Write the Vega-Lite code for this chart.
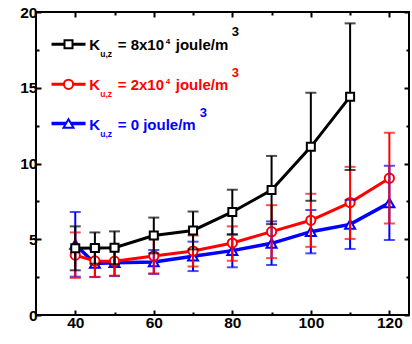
{
  "$schema": "https://vega.github.io/schema/vega-lite/v6.json",
  "width": 373,
  "height": 303,
  "autosize": "none",
  "padding": {"left": 36, "top": 12, "right": 3, "bottom": 29},
  "background": "white",
  "config": {
    "view": {"stroke": "#000000", "strokeWidth": 2},
    "axis": {
      "labelFont": "Liberation Sans",
      "labelFontWeight": "bold",
      "labelFontSize": 15.5,
      "labelColor": "#000000",
      "tickColor": "#000000",
      "tickWidth": 2,
      "domain": false,
      "grid": false
    },
    "text": {"font": "Liberation Sans", "fontWeight": "bold", "align": "left", "baseline": "alphabetic"}
  },
  "data": {
    "values": [
      {"s": "k", "x": 40, "y": 4.40, "lo": 2.95, "hi": 5.85},
      {"s": "k", "x": 45, "y": 4.42, "lo": 3.39, "hi": 5.45},
      {"s": "k", "x": 50, "y": 4.44, "lo": 3.36, "hi": 5.52},
      {"s": "k", "x": 60, "y": 5.25, "lo": 4.07, "hi": 6.43},
      {"s": "k", "x": 70, "y": 5.58, "lo": 4.33, "hi": 6.83},
      {"s": "k", "x": 80, "y": 6.80, "lo": 5.33, "hi": 8.27},
      {"s": "k", "x": 90, "y": 8.25, "lo": 6.00, "hi": 10.50},
      {"s": "k", "x": 100, "y": 11.10, "lo": 7.54, "hi": 14.67},
      {"s": "k", "x": 110, "y": 14.41, "lo": 9.57, "hi": 19.25},
      {"s": "r", "x": 40, "y": 3.95, "lo": 2.45, "hi": 5.45},
      {"s": "r", "x": 45, "y": 3.57, "lo": 2.52, "hi": 4.60},
      {"s": "r", "x": 50, "y": 3.55, "lo": 2.60, "hi": 4.50},
      {"s": "r", "x": 60, "y": 3.90, "lo": 2.75, "hi": 5.05},
      {"s": "r", "x": 70, "y": 4.22, "lo": 3.20, "hi": 5.25},
      {"s": "r", "x": 80, "y": 4.75, "lo": 3.58, "hi": 5.85},
      {"s": "r", "x": 90, "y": 5.50, "lo": 3.75, "hi": 7.25},
      {"s": "r", "x": 100, "y": 6.25, "lo": 4.50, "hi": 8.00},
      {"s": "r", "x": 110, "y": 7.42, "lo": 5.02, "hi": 9.78},
      {"s": "r", "x": 120, "y": 9.03, "lo": 6.04, "hi": 12.03},
      {"s": "b", "x": 40, "y": 4.66, "lo": 2.53, "hi": 6.80},
      {"s": "b", "x": 45, "y": 3.40, "lo": 2.50, "hi": 4.30},
      {"s": "b", "x": 50, "y": 3.45, "lo": 2.57, "hi": 4.33},
      {"s": "b", "x": 60, "y": 3.50, "lo": 2.71, "hi": 4.29},
      {"s": "b", "x": 70, "y": 3.88, "lo": 2.90, "hi": 4.84},
      {"s": "b", "x": 80, "y": 4.25, "lo": 3.15, "hi": 5.30},
      {"s": "b", "x": 90, "y": 4.73, "lo": 3.30, "hi": 6.18},
      {"s": "b", "x": 100, "y": 5.50, "lo": 4.07, "hi": 6.93},
      {"s": "b", "x": 110, "y": 5.98, "lo": 4.36, "hi": 7.60},
      {"s": "b", "x": 120, "y": 7.40, "lo": 4.95, "hi": 9.85}
    ]
  },
  "resolve": {"axis": {"x": "independent", "y": "independent"}},
  "layer": [
    {
      "transform": [{"filter": "datum.s === 'b'"}],
      "mark": {"type": "line", "color": "#0000ff", "strokeWidth": 3.5},
      "encoding": {
        "x": {"field": "x", "type": "quantitative", "scale": {"domain": [30, 125], "nice": false, "zero": false},
              "axis": {"orient": "bottom", "values": [40, 60, 80, 100, 120], "tickSize": -5, "labelPadding": 5, "title": null}},
        "y": {"field": "y", "type": "quantitative", "scale": {"domain": [0, 20], "nice": false, "zero": false},
              "axis": {"orient": "left", "values": [0, 5, 10, 15, 20], "tickSize": -5, "labelPadding": 4, "title": null}}
      }
    },
    {
      "transform": [{"filter": "datum.s === 'r'"}],
      "mark": {"type": "line", "color": "#ff0000", "strokeWidth": 3},
      "encoding": {
        "x": {"field": "x", "type": "quantitative", "scale": {"domain": [30, 125], "nice": false, "zero": false},
              "axis": {"orient": "bottom", "values": [50, 70, 90, 110], "tickSize": -3, "labels": false, "title": null}},
        "y": {"field": "y", "type": "quantitative", "scale": {"domain": [0, 20], "nice": false, "zero": false},
              "axis": {"orient": "left", "values": [2.5, 7.5, 12.5, 17.5], "tickSize": -3, "labels": false, "title": null}}
      }
    },
    {
      "transform": [{"filter": "datum.s === 'b'"}],
      "mark": {"type": "point", "shape": "triangle-up", "size": 100, "filled": true, "fill": "#ffffff", "stroke": "#0000ff", "strokeWidth": 2, "opacity": 1},
      "encoding": {
        "x": {"field": "x", "type": "quantitative", "scale": {"domain": [30, 125], "nice": false, "zero": false},
              "axis": {"orient": "top", "values": [40, 60, 80, 100, 120], "tickSize": -5, "labels": false, "title": null}},
        "y": {"field": "y", "type": "quantitative", "scale": {"domain": [0, 20], "nice": false, "zero": false},
              "axis": {"orient": "right", "values": [0, 5, 10, 15, 20], "tickSize": -5, "labels": false, "title": null}}
      }
    },
    {
      "transform": [{"filter": "datum.s === 'r'"}],
      "mark": {"type": "point", "shape": "circle", "size": 85, "filled": true, "fill": "#ffffff", "stroke": "#ff0000", "strokeWidth": 2, "opacity": 1},
      "encoding": {
        "x": {"field": "x", "type": "quantitative", "scale": {"domain": [30, 125], "nice": false, "zero": false},
              "axis": {"orient": "top", "values": [50, 70, 90, 110], "tickSize": -3, "labels": false, "title": null}},
        "y": {"field": "y", "type": "quantitative", "scale": {"domain": [0, 20], "nice": false, "zero": false},
              "axis": {"orient": "right", "values": [2.5, 7.5, 12.5, 17.5], "tickSize": -3, "labels": false, "title": null}}
      }
    },
    {
      "transform": [{"filter": "datum.s === 'b'"}],
      "mark": {"type": "errorbar", "color": "#0000ff", "thickness": 2, "ticks": {"size": 11, "thickness": 2, "color": "#0000ff"}},
      "encoding": {
        "x": {"field": "x", "type": "quantitative", "scale": {"domain": [30, 125], "nice": false, "zero": false}, "axis": null},
        "y": {"field": "lo", "type": "quantitative", "scale": {"domain": [0, 20], "nice": false, "zero": false}, "axis": null},
        "y2": {"field": "hi"}
      }
    },
    {
      "transform": [{"filter": "datum.s === 'r'"}],
      "mark": {"type": "errorbar", "color": "#ff0000", "thickness": 2, "ticks": {"size": 11, "thickness": 2, "color": "#ff0000"}},
      "encoding": {
        "x": {"field": "x", "type": "quantitative", "scale": {"domain": [30, 125], "nice": false, "zero": false}, "axis": null},
        "y": {"field": "lo", "type": "quantitative", "scale": {"domain": [0, 20], "nice": false, "zero": false}, "axis": null},
        "y2": {"field": "hi"}
      }
    },
    {
      "transform": [{"filter": "datum.s === 'k'"}],
      "mark": {"type": "line", "color": "#000000", "strokeWidth": 3},
      "encoding": {
        "x": {"field": "x", "type": "quantitative", "scale": {"domain": [30, 125], "nice": false, "zero": false}, "axis": null},
        "y": {"field": "y", "type": "quantitative", "scale": {"domain": [0, 20], "nice": false, "zero": false}, "axis": null}
      }
    },
    {
      "transform": [{"filter": "datum.s === 'k'"}],
      "mark": {"type": "errorbar", "color": "#000000", "thickness": 2, "ticks": {"size": 11, "thickness": 2, "color": "#000000"}},
      "encoding": {
        "x": {"field": "x", "type": "quantitative", "scale": {"domain": [30, 125], "nice": false, "zero": false}, "axis": null},
        "y": {"field": "lo", "type": "quantitative", "scale": {"domain": [0, 20], "nice": false, "zero": false}, "axis": null},
        "y2": {"field": "hi"}
      }
    },
    {
      "transform": [{"filter": "datum.s === 'k'"}],
      "mark": {"type": "point", "shape": "square", "size": 64, "filled": true, "fill": "#ffffff", "stroke": "#000000", "strokeWidth": 2, "opacity": 1},
      "encoding": {
        "x": {"field": "x", "type": "quantitative", "scale": {"domain": [30, 125], "nice": false, "zero": false}, "axis": null},
        "y": {"field": "y", "type": "quantitative", "scale": {"domain": [0, 20], "nice": false, "zero": false}, "axis": null}
      }
    },
    {
      "data": {"values": [{"entry": "8x10^4"}]},
      "encoding": {
        "x": {"datum": 43.58, "type": "quantitative", "axis": null},
        "y": {"datum": 17.87, "type": "quantitative", "axis": null}
      },
      "layer": [
        {"mark": {"type": "rule", "color": "#000000", "strokeWidth": 3},
         "encoding": {"x": {"datum": 33.95, "type": "quantitative", "axis": null}, "x2": {"datum": 42.61}}},
        {"mark": {"type": "point", "shape": "square", "size": 64, "filled": true, "fill": "#ffffff", "stroke": "#000000", "strokeWidth": 2, "opacity": 1},
         "encoding": {"x": {"datum": 38.28, "type": "quantitative", "axis": null}}},
        {"mark": {"type": "text", "text": "K", "fontSize": 15, "dy": 6, "color": "#000000"}},
        {"mark": {"type": "text", "text": "u,z", "fontSize": 8.5, "dx": 11, "dy": 13, "color": "#000000"}},
        {"mark": {"type": "text", "text": "= 8x10", "fontSize": 15, "dx": 28.4, "dy": 6, "color": "#000000"}},
        {"mark": {"type": "text", "text": "4", "fontSize": 8, "dx": 76.5, "dy": 0, "color": "#000000"}},
        {"mark": {"type": "text", "text": "joule/m", "fontSize": 15, "dx": 86.4, "dy": 6, "color": "#000000"}},
        {"mark": {"type": "text", "text": "3", "fontSize": 13, "dx": 142.4, "dy": -8, "color": "#000000"}}
      ]
    },
    {
      "data": {"values": [{"entry": "2x10^4"}]},
      "encoding": {
        "x": {"datum": 43.58, "type": "quantitative", "axis": null},
        "y": {"datum": 15.23, "type": "quantitative", "axis": null}
      },
      "layer": [
        {"mark": {"type": "rule", "color": "#ff0000", "strokeWidth": 3},
         "encoding": {"x": {"datum": 33.95, "type": "quantitative", "axis": null}, "x2": {"datum": 42.61}}},
        {"mark": {"type": "point", "shape": "circle", "size": 85, "filled": true, "fill": "#ffffff", "stroke": "#ff0000", "strokeWidth": 2, "opacity": 1},
         "encoding": {"x": {"datum": 38.28, "type": "quantitative", "axis": null}}},
        {"mark": {"type": "text", "text": "K", "fontSize": 15, "dy": 6, "color": "#ff0000"}},
        {"mark": {"type": "text", "text": "u,z", "fontSize": 8.5, "dx": 11, "dy": 13, "color": "#ff0000"}},
        {"mark": {"type": "text", "text": "= 2x10", "fontSize": 15, "dx": 28.4, "dy": 6, "color": "#ff0000"}},
        {"mark": {"type": "text", "text": "4", "fontSize": 8, "dx": 76.5, "dy": 0, "color": "#ff0000"}},
        {"mark": {"type": "text", "text": "joule/m", "fontSize": 15, "dx": 86.4, "dy": 6, "color": "#ff0000"}},
        {"mark": {"type": "text", "text": "3", "fontSize": 13, "dx": 142.4, "dy": -7, "color": "#ff0000"}}
      ]
    },
    {
      "data": {"values": [{"entry": "0"}]},
      "encoding": {
        "x": {"datum": 43.58, "type": "quantitative", "axis": null},
        "y": {"datum": 12.64, "type": "quantitative", "axis": null}
      },
      "layer": [
        {"mark": {"type": "rule", "color": "#0000ff", "strokeWidth": 3.5},
         "encoding": {"x": {"datum": 33.95, "type": "quantitative", "axis": null}, "x2": {"datum": 42.61}}},
        {"mark": {"type": "point", "shape": "triangle-up", "size": 100, "filled": true, "fill": "#ffffff", "stroke": "#0000ff", "strokeWidth": 2, "opacity": 1},
         "encoding": {"x": {"datum": 38.28, "type": "quantitative", "axis": null}}},
        {"mark": {"type": "text", "text": "K", "fontSize": 15, "dy": 6, "color": "#0000ff"}},
        {"mark": {"type": "text", "text": "u,z", "fontSize": 8.5, "dx": 11, "dy": 13, "color": "#0000ff"}},
        {"mark": {"type": "text", "text": "= 0 joule/m", "fontSize": 15, "dx": 28.4, "dy": 6, "color": "#0000ff"}},
        {"mark": {"type": "text", "text": "3", "fontSize": 13, "dx": 110.5, "dy": -6.5, "color": "#0000ff"}}
      ]
    }
  ]
}
